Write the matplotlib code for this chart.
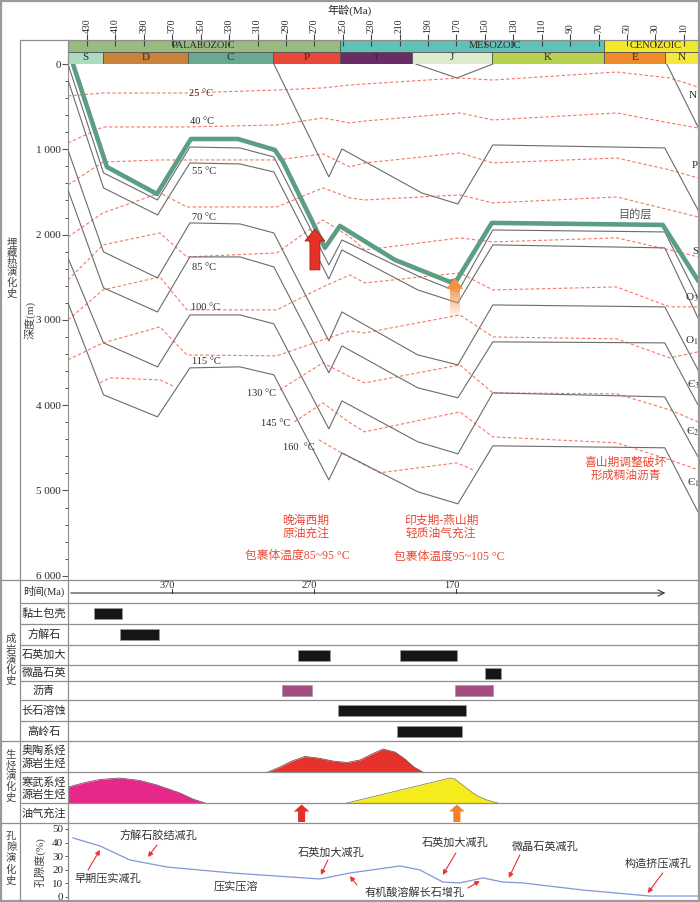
import numpy as np
import matplotlib
matplotlib.use('Agg')
import matplotlib.pyplot as plt
from matplotlib.patches import Rectangle, FancyArrow, Polygon
from matplotlib.ticker import FuncFormatter, MultipleLocator

plt.rcParams['font.family'] = ['Liberation Serif', 'Noto Sans CJK SC', 'DejaVu Sans']
plt.rcParams['mathtext.fontset'] = 'stix'

W, H = 700, 902
GRID = '#8e8e8e'
LINE = '#6b6b6b'
ISO = '#f47866'
RED_TXT = '#ec4a36'
TXT = '#2a2a2a'

# ---------------- stratigraphic column ----------------
era_names = ['PALAEOZOIC', 'MESOZOIC', 'CENOZOIC']
era_bounds = [443.4, 252.0, 66.0, 0.0]
era_colors = ['#98bb82', '#5fc1b7', '#f2e82c']

period_names = ['S', 'D', 'C', 'P', 'T', 'J', 'K', 'E', 'N']
period_bounds = [443.4, 419.0, 359.0, 299.0, 252.0, 201.0, 145.0, 66.0, 23.0, 0.0]
period_colors = ['#abdcc2', '#c8823a', '#69a892', '#e8473a', '#6a2c68',
                 '#dcedcf', '#b7d04f', '#f08b2a', '#f6e73e']
age_ticks = [430, 410, 390, 370, 350, 330, 310, 290, 270, 250, 230, 210,
             190, 170, 150, 130, 110, 90, 70, 50, 30, 10]

# ---------------- burial history (age Ma, depth m) ----------------
burial_age = [443.4, 418.4, 380.4, 357.6, 322.4, 298.5, 259.8, 250.6, 197.2, 169.0, 144.4, 23.4, 0.0]
layer_o3a = [0, 1277, 1594, 973, 984, 1090, 2356, 2063, 2485, 2672, 1946, 1969, 2742]
layer_o3b = [188, 1453, 1770, 1160, 1172, 1266, 2520, 2180, 2649, 2801, 2121, 2156, 2977]
layer_o1 = [1008, 2203, 2508, 1863, 1875, 1981, 3246, 2907, 3411, 3528, 2825, 2848, 3586]
layer_c3 = [1477, 2625, 2907, 2262, 2262, 2379, 3621, 3305, 3797, 3914, 3258, 3270, 3997]
layer_c2 = [2274, 3270, 3551, 2942, 2942, 3047, 4278, 3950, 4430, 4571, 3856, 3903, 4606]
layer_c1 = [2801, 3879, 4137, 3563, 3551, 3645, 4876, 4559, 5016, 5157, 4477, 4500, 5251]

target_age = [439.9, 416.0, 380.8, 356.9, 323.8, 297.8, 292.1, 269.6, 262.6, 252.0,
              213.3, 174.6, 169.7, 145.1, 24.8, 0.2]
target_depth = [0, 1207, 1524, 879, 879, 1008, 1148, 1910, 2156, 1899,
                2297, 2555, 2532, 1863, 1887, 2532]

permian_age = [298.5, 259.8, 250.6, 194.4, 169.0, 144.4, 23.4, 0.0]
permian_depth = [0, 1324, 996, 1512, 1641, 949, 984, 1711]
jurassic_age = [198.5, 169.7, 144.4]
jurassic_depth = [0, 164, 0]
neogene_age = [22.0, 0.0]
neogene_depth = [0, 738]

# ---------------- isotherms ----------------
iso_age = [443.4, 418.8, 378.7, 359.7, 296.4, 264.0, 245.0, 234.5, 167.6, 144.4, 57.2, 19.9, 0.0]
iso_25 = [375, 340, 340, 340, 305, 281, 246, 234, 164, 188, 94, 164, 270]
iso_40 = [926, 738, 738, 738, 715, 633, 691, 668, 574, 656, 574, 691, 750]
iso_55 = [1418, 1149, 1125, 1125, 1125, 1055, 1207, 1160, 1043, 1160, 1102, 1242, 1336]
iso_70 = [2028, 1746, 1512, 1676, 1676, 1453, 1570, 1594, 1535, 1629, 1559, 1711, 1793]
iso_85 = [2532, 2121, 1981, 2262, 2215, 1828, 2028, 2180, 2039, 2086, 2039, 2180, 2262]
iso_100 = [3000, 2649, 2496, 2883, 2883, 2614, 2473, 2567, 2449, 2649, 2614, 2848, 2848]
iso_115 = [3469, 3270, 3082, 3411, 3422, 3235, 3129, 3153, 2942, 3200, 3223, 3446, 3375]
iso_130_age = [294.3, 264.0, 245.0, 234.5, 167.6, 144.4, 57.2, 19.9, 0.0]
iso_130 = [3821, 3504, 3668, 3739, 3528, 3856, 3867, 4055, 4196]
iso_130b_age = [420.9, 413.9, 378.7, 368.1]
iso_130b = [3739, 3680, 3704, 3786]
iso_145_age = [284.1, 264.0, 245.0, 234.5, 167.6, 144.4, 57.2, 19.9, 0.0]
iso_145 = [4196, 3973, 4207, 4313, 4079, 4372, 4442, 4641, 4758]
iso_160_age = [266.8, 248.5, 223.9, 169.7, 158.5]
iso_160 = [4407, 4582, 4793, 4676, 4758]

charge_main_age = [269.6, 171.2]
charge_row_age = [279.0, 169.7]

# ---------------- diagenesis ----------------
diag_names = ['黏土包壳', '方解石', '石英加大', '微晶石英', '沥青', '长石溶蚀', '高岭石']
diag_spans = [[(425.1, 405.4)], [(406.8, 379.4)], [(281.6, 259.1), (209.8, 169.7)],
              [(150.0, 138.8)], [(292.8, 271.7), (171.1, 144.4)], [(253.4, 163.4)],
              [(212.0, 166.0)]]
time_ticks = [370, 270, 170]

# ---------------- hydrocarbon generation ----------------
ord_gen_age = [302.7, 294.3, 285.8, 276.7, 267.5, 257.0, 247.1, 238.0, 229.5, 221.8, 213.3, 206.3, 200.0, 193.6]
ord_gen_val = [0, 5, 11, 15.5, 14, 11, 9.5, 12, 18, 23, 20, 13, 5, 0]
cam_gen_age = [443.4, 431.4, 420.9, 406.8, 392.7, 380.8, 371.6, 364.6, 355.5, 347.0]
cam_gen_val = [16, 20.5, 23.5, 25, 22.5, 18, 13.5, 10, 4, 0]
cam2_gen_age = [247.1, 174.6, 171.1, 167.6, 162.0, 158.5, 153.6, 148.6, 140.9]
cam2_gen_val = [0, 25, 24, 20, 14, 10, 6, 3, 0]

# ---------------- porosity ----------------
por_age = [439.9, 420.9, 399.8, 373.7, 327.3, 266.1, 245.0, 209.8, 195.8, 179.6,
           167.6, 151.4, 137.4, 123.3, 81.1, 34.0, 0.2]
por_val = [43.4, 37.5, 27.2, 22.0, 17.6, 13.2, 17.6, 22.8, 19.9, 11.0,
           10.3, 14.0, 11.0, 10.3, 5.1, 0.7, 0.7]


def box(x0, y0, x1, y1):
    return [x0 / W, 1 - y1 / H, (x1 - x0) / W, (y1 - y0) / H]


fig = plt.figure(figsize=(7, 9.02), dpi=100)

# ---------- main burial / thermal panel ----------
ax = fig.add_axes(box(68, 64, 698, 580))
ax.set_facecolor('none')
for d in [iso_25, iso_40, iso_55, iso_70, iso_85, iso_100, iso_115]:
    ax.plot(iso_age, d, color=ISO, lw=0.8, dashes=(3, 2), zorder=2)
for a, d in [(iso_130_age, iso_130), (iso_130b_age, iso_130b),
             (iso_145_age, iso_145), (iso_160_age, iso_160)]:
    ax.plot(a, d, color=ISO, lw=0.8, dashes=(3, 2), zorder=2)

for d in [layer_o3a, layer_o3b, layer_o1, layer_c3, layer_c2, layer_c1]:
    ax.plot(burial_age, d, color=LINE, lw=0.8, zorder=3)
ax.plot(permian_age, permian_depth, color=LINE, lw=0.8, zorder=3)
ax.plot(jurassic_age, jurassic_depth, color=LINE, lw=0.8, zorder=3)
ax.plot(neogene_age, neogene_depth, color=LINE, lw=0.8, zorder=3)
ax.plot(target_age, target_depth, color='#5c9d86', lw=3.3, zorder=4)

# red charge arrow (late Hercynian)
ax.add_patch(FancyArrow(charge_main_age[0], 2414, 0, -480, width=7, head_width=14,
                        head_length=141, length_includes_head=True,
                        fc='#e63127', ec='#a3201b', lw=0.6, zorder=6))
# orange charge arrow (Indosinian-Yanshanian), fading shaft
oa = charge_main_age[1]
grad = np.ones((60, 1, 4))
grad[..., :3] = matplotlib.colors.to_rgb('#f49650')
grad[:, 0, 3] = np.linspace(0.95, 0.05, 60)
ax.imshow(grad, extent=[oa + 3.2, oa - 3.2, 2965, 2630], origin='upper',
          aspect='auto', zorder=6)
ax.add_patch(Polygon([[oa, 2508], [oa + 6, 2637], [oa - 6, 2637]], closed=True,
                     fc='#f49146', ec='none', zorder=6))

ax.set_xlim(443.4, 0)
ax.set_ylim(6050, 0)
ax.set_xticks([])
ax.yaxis.set_major_locator(MultipleLocator(1000))
ax.yaxis.set_minor_locator(MultipleLocator(200))
ax.yaxis.set_major_formatter(FuncFormatter(lambda v, p: f'{int(round(v)):,}'.replace(',', ' ')))
ax.tick_params(axis='y', which='major', length=4, width=0.8, color='#555', labelsize=8, pad=1, labelcolor=TXT)
ax.tick_params(axis='y', which='minor', length=2.5, width=0.7, color='#555')
for s in ['top', 'right', 'bottom']:
    ax.spines[s].set_visible(False)
ax.spines['left'].set_color(GRID)

# ---------- stratigraphic bars ----------
era_label_age = [347.7, 143.0, 30.0]
axs = fig.add_axes(box(68, 40, 698, 64))
axs.set_xlim(443.4, 0)
axs.set_ylim(0, 2)
for i, name in enumerate(era_names):
    lo, hi = era_bounds[i + 1], era_bounds[i]
    axs.add_patch(Rectangle((lo, 1), hi - lo, 1, fc=era_colors[i], ec='#555', lw=0.6))
    axs.text(era_label_age[i], 1.5, name, ha='center', va='center', fontsize=7.5, color=TXT)
for i, name in enumerate(period_names):
    lo, hi = period_bounds[i + 1], period_bounds[i]
    axs.add_patch(Rectangle((lo, 0), hi - lo, 1, fc=period_colors[i], ec='#555', lw=0.6))
    axs.text((lo + hi) / 2, 0.5, name, ha='center', va='center', fontsize=8, color=TXT)
axs.xaxis.tick_top()
axs.set_xticks(age_ticks)
axs.set_xticklabels([str(a) for a in age_ticks], rotation=90)
axs.tick_params(axis='x', direction='inout', length=8, width=0.8, color='#444', labelsize=7, pad=1, labelcolor=TXT)
axs.set_yticks([])
for s in axs.spines.values():
    s.set_visible(False)

# ---------- diagenesis panel ----------
row_edges = [603, 624, 645, 665, 681, 700, 721, 741]
axd = fig.add_axes(box(68, 580, 698, 741))
axd.set_facecolor('none')
axd.set_xlim(443.4, 0)
axd.set_ylim(741, 580)
axd.axis('off')
for i, spans in enumerate(diag_spans):
    yc = (row_edges[i] + row_edges[i + 1]) / 2
    col = '#a54c82' if diag_names[i] == '沥青' else '#161616'
    for a0, a1 in spans:
        axd.barh(yc, a0 - a1, left=a1, height=11, color=col, edgecolor='#9a9a9a', lw=0.5)
axd.annotate('', xy=(21.0, 593), xytext=(443.4, 593),
             arrowprops=dict(arrowstyle='->', lw=0.8, color='#333', mutation_scale=11))
for t in time_ticks:
    axd.plot([t, t], [593, 589], color='#333', lw=0.7)
    axd.text(t + 3.5, 590, str(t), ha='center', va='bottom', fontsize=7.5, color=TXT)

# ---------- generation panels ----------
axo = fig.add_axes(box(68, 741, 698, 772))
axo.set_xlim(443.4, 0)
axo.set_ylim(0, 31)
axo.fill_between(ord_gen_age, ord_gen_val, color='#e5322c', lw=0)
axo.plot(ord_gen_age, ord_gen_val, color='#6a3a3a', lw=0.5)
axo.axis('off')

axc = fig.add_axes(box(68, 772, 698, 803))
axc.set_xlim(443.4, 0)
axc.set_ylim(0, 31)
axc.fill_between(cam_gen_age, cam_gen_val, color='#e6288a', lw=0)
axc.plot(cam_gen_age, cam_gen_val, color='#6a3a55', lw=0.5)
axc.fill_between(cam2_gen_age, cam2_gen_val, color='#f6ec1d', lw=0)
axc.plot(cam2_gen_age, cam2_gen_val, color='#7a7440', lw=0.5)
axc.axis('off')

axq = fig.add_axes(box(68, 803, 698, 823))
axq.set_xlim(443.4, 0)
axq.set_ylim(0, 20)
axq.axis('off')
for a, c in zip(charge_row_age, ['#e62f27', '#f07f2e']):
    axq.add_patch(FancyArrow(a, 1, 0, 17.5, width=5, head_width=11, head_length=7,
                             length_includes_head=True, fc=c, ec='none'))

# ---------- porosity panel ----------
axp = fig.add_axes(box(68, 823, 698, 899))
axp.set_facecolor('none')
axp.set_xlim(443.4, 0)
axp.set_ylim(-1.5, 54.4)
axp.plot(por_age, por_val, color='#8296d8', lw=0.9)
axp.set_xticks([])
axp.set_yticks([0, 10, 20, 30, 40, 50])
axp.tick_params(axis='y', length=2.5, width=0.7, color='#555', labelsize=8, pad=1, labelcolor=TXT)
for s in ['top', 'right', 'bottom']:
    axp.spines[s].set_visible(False)
axp.spines['left'].set_color(GRID)

ARROW = dict(arrowstyle='-|>', color='#e8322e', lw=0.8, mutation_scale=7, shrinkA=0, shrinkB=0)
por_notes = [
    ('早期压实减孔', (415.5, 14.0), (429.3, 19.9), (420.9, 34.6)),
    ('方解石胶结减孔', (380.1, 45.6), (380.8, 38.2), (387.1, 29.4)),
    ('压实压溶', (325.2, 8.1), None, None),
    ('石英加大减孔', (258.4, 32.4), (260.5, 27.2), (265.4, 16.2)),
    ('石英加大减孔', (171.1, 39.7), (170.4, 32.4), (179.6, 16.2)),
    ('微晶石英减孔', (107.8, 36.8), (125.4, 30.9), (133.2, 14.0)),
    ('构造挤压减孔', (28.3, 24.3), (24.8, 17.6), (35.4, 2.9)),
    ('有机酸溶解长石增孔', (199.3, 2.9), (240.1, 8.8), (245.0, 15.4)),
]
for txt, pos, tail, head in por_notes:
    axp.text(pos[0], pos[1], txt, ha='center', va='center', fontsize=8, color='#333')
    if tail is not None:
        axp.annotate('', xy=head, xytext=tail, arrowprops=ARROW)
axp.annotate('', xy=(153.6, 11.8), xytext=(162.0, 6.6), arrowprops=ARROW)

# ---------- overlay: frame, separators and labels (pixel coords) ----------
bg = fig.add_axes([0, 0, 1, 1], zorder=10)
bg.set_facecolor('none')
bg.set_xlim(0, W)
bg.set_ylim(H, 0)
bg.axis('off')
bg.add_patch(Rectangle((1, 1), 698, 900, fill=False, ec='#9a9a9a', lw=1.6))


def hline(y, x0):
    bg.plot([x0, 699], [y, y], color=GRID, lw=0.9, solid_capstyle='butt')


bg.plot([20, 20], [40, 901], color=GRID, lw=0.9)
bg.plot([68, 68], [40, 64], color=GRID, lw=0.9)
bg.plot([68, 68], [580, 901], color=GRID, lw=0.9)
hline(40, 20)
for y in [580, 741, 823]:
    hline(y, 1)
for y in row_edges[:-1] + [772, 803]:
    hline(y, 20)

bg.text(350, 10, '年龄(Ma)', ha='center', va='center', fontsize=8, color=TXT)


def vtext(x, yc, s, size=7.5, ls=1.05):
    bg.text(x, yc, '\n'.join(s), ha='center', va='center', fontsize=size,
            linespacing=ls, color='#444')


vtext(12, 268, '埋藏热演化史')
vtext(11, 660, '成岩演化史')
vtext(11, 776, '生烃演化史', ls=1.1)
vtext(11, 859, '孔隙演化史', ls=1.15)
bg.text(30, 320, '深度(m)', rotation=90, ha='center', va='center', fontsize=8, color='#444')
bg.text(40, 862, '孔隙度(%)', rotation=90, ha='center', va='center', fontsize=8, color='#444')

bg.text(44, 591, '时间(Ma)', ha='center', va='center', fontsize=7.5, color=TXT)
for i, name in enumerate(diag_names):
    bg.text(44, (row_edges[i] + row_edges[i + 1]) / 2, name, ha='center', va='center',
            fontsize=8, color=TXT)
bg.text(44, 757, '奥陶系烃\n源岩生烃', ha='center', va='center', fontsize=8, linespacing=1.1, color=TXT)
bg.text(44, 788, '寒武系烃\n源岩生烃', ha='center', va='center', fontsize=8, linespacing=1.1, color=TXT)
bg.text(44, 813, '油气充注', ha='center', va='center', fontsize=8, color=TXT)

iso_labels = [('25 °C', 189, 93), ('40 °C', 190, 121), ('55 °C', 192, 171), ('70 °C', 192, 218),
              ('85 °C', 192, 267), ('100 °C', 191, 307), ('115 °C', 192, 362)]
for s, x, y in iso_labels:
    bg.text(x, y, s, ha='left', va='center', fontsize=7.5, color=TXT)
for s, x, y in [('130 °C', 276, 393), ('145 °C', 290, 423), ('160  °C', 315, 447)]:
    bg.text(x, y, s, ha='right', va='center', fontsize=7.5, color=TXT)

for s, x, y in [('N', 693, 95), ('P', 695, 166), ('S', 695, 252), ('O$_3$', 692, 298),
                ('O$_1$', 692, 341), ('Є$_3$', 693, 385), ('Є$_2$', 693, 432), ('Є$_1$', 693, 483)]:
    bg.text(x, y, s, ha='center', va='center', fontsize=8, color=TXT)
bg.text(635, 215, '目的层', ha='center', va='center', fontsize=8, color='#555')

bg.text(306, 527, '晚海西期\n原油充注', ha='center', va='center', fontsize=8.5, linespacing=1.1, color=RED_TXT)
bg.text(297, 556, '包裹体温度85~95 °C', ha='center', va='center', fontsize=8.5, color=RED_TXT)
bg.text(441, 527, '印支期-燕山期\n轻质油气充注', ha='center', va='center', fontsize=8.5, linespacing=1.1, color=RED_TXT)
bg.text(449, 557, '包裹体温度95~105 °C', ha='center', va='center', fontsize=8.5, color=RED_TXT)
bg.text(626, 469, '喜山期调整破坏\n形成稠油沥青', ha='center', va='center', fontsize=8.5, linespacing=1.1, color=RED_TXT)

fig.savefig('out.png', dpi=100)
